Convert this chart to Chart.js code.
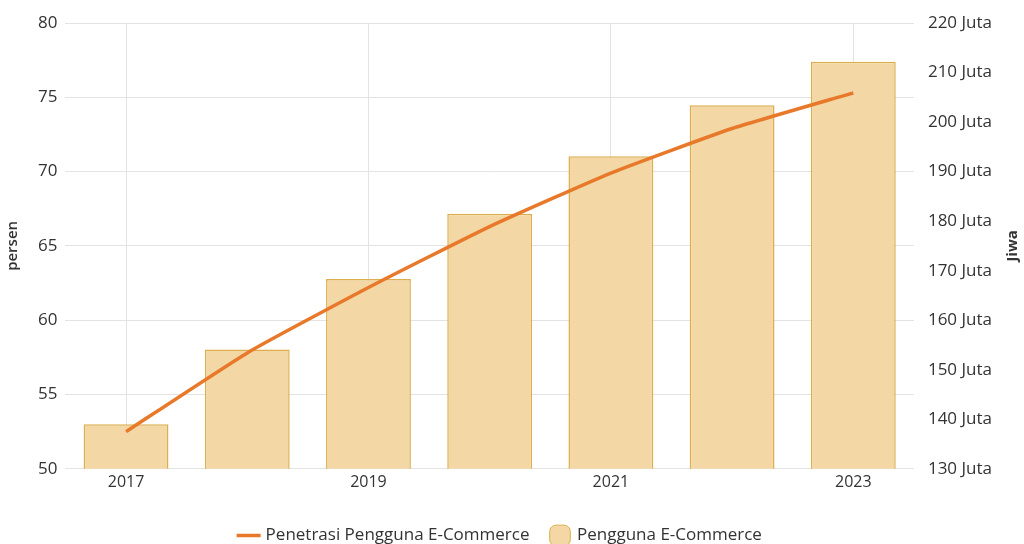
<!DOCTYPE html>
<html>
<head>
<meta charset="utf-8">
<script src="https://cdn.jsdelivr.net/npm/chart.js@4.4.1/dist/chart.umd.min.js"></script>
<style>
  html, body { margin: 0; padding: 0; background: #fff; }
  #wrap { width: 1024px; height: 544px; }
</style>
</head>
<body>
<div id="wrap"><canvas id="ecommerce-chart"></canvas></div>
<script>
const years = ['2017', '2018', '2019', '2020', '2021', '2022', '2023'];
const penetrasi = [52.5, 57.8, 62.2, 66.3, 69.9, 72.9, 75.3];   // persen
const pengguna = [139.0, 154.1, 168.3, 181.5, 193.1, 203.4, 212.2]; // juta jiwa

const ctx = document.getElementById('ecommerce-chart');
Chart.defaults.font.family = '"Open Sans", "Noto Sans", sans-serif';
Chart.defaults.color = '#333';

// right axis title reads bottom-to-top in the original
const rightTitle = {
    id: 'rightTitle',
    afterDraw(chart) {
        const c = chart.ctx;
        const area = chart.chartArea;
        c.save();
        c.translate(1013, (area.top + area.bottom) / 2);
        c.rotate(-Math.PI / 2);
        c.font = 'bold 15px "Open Sans", sans-serif';
        c.fillStyle = '#333';
        c.textAlign = 'center';
        c.textBaseline = 'middle';
        c.fillText('Jiwa', 0, 0);
        c.restore();
    }
};

const data = {
    labels: years,
    datasets: [
        {
            type: 'line',
            label: 'Penetrasi Pengguna E-Commerce',
            data: penetrasi,
            borderColor: '#e8792b',
            backgroundColor: '#e8792b',
            borderWidth: 3.5,
            pointRadius: 0,
            tension: 0.15,
            yAxisID: 'y',
            order: 0,
        },
        {
            type: 'bar',
            label: 'Pengguna E-Commerce',
            data: pengguna,
            backgroundColor: '#f3d8a6',
            borderColor: '#dcae4e',
            borderWidth: 1.5,
            categoryPercentage: 1,
            barPercentage: 0.7,
            yAxisID: 'y1',
            order: 1,
        },
    ]
};

const config = {
    data: data,
    options: {
        responsive: true,
        maintainAspectRatio: false,
        animation: false,
        layout: { padding: { top: 23, right: 26, left: 4, bottom: -10 } },
        plugins: {
            legend: {
                position: 'bottom',
                labels: {
                    usePointStyle: true,
                    font: { size: 17 },
                    padding: 22,
                    generateLabels(chart) {
                        const items = Chart.defaults.plugins.legend.labels.generateLabels(chart);
                        items.forEach((it, i) => {
                            if (i === 0) { it.pointStyle = 'line'; it.lineWidth = 3.5; }
                            else { it.pointStyle = 'rectRounded'; it.lineWidth = 1; }
                        });
                        return items;
                    }
                }
            },
            tooltip: { enabled: false }
        },
        scales: {
            x: {
                offset: true,
                grid: { offset: false, color: '#e3e3e3', drawTicks: false },
                border: { display: false },
                afterFit(scale) { scale.height += 9; },
                ticks: {
                    autoSkip: false,
                    maxRotation: 0,
                    padding: 4,
                    font: { size: 16 },
                    callback: function (val, i) { return i % 2 === 0 ? years[i] : null; }
                }
            },
            y: {
                type: 'linear',
                position: 'left',
                min: 50,
                max: 80,
                ticks: { stepSize: 5, font: { size: 17 }, padding: 8 },
                grid: { color: '#e3e3e3', drawTicks: false },
                border: { display: false },
                title: { display: true, text: 'persen', font: { size: 15, weight: '600' }, padding: { top: 0, bottom: 8 } }
            },
            y1: {
                type: 'linear',
                position: 'right',
                min: 130,
                max: 220,
                ticks: {
                    stepSize: 10,
                    font: { size: 17 },
                    padding: 6,
                    callback: (v) => v + ' Juta'
                },
                grid: { drawOnChartArea: false, display: false },
                border: { display: false },
            },
        }
    },
    plugins: [rightTitle]
};

new Chart(ctx, config);
</script>
</body>
</html>
